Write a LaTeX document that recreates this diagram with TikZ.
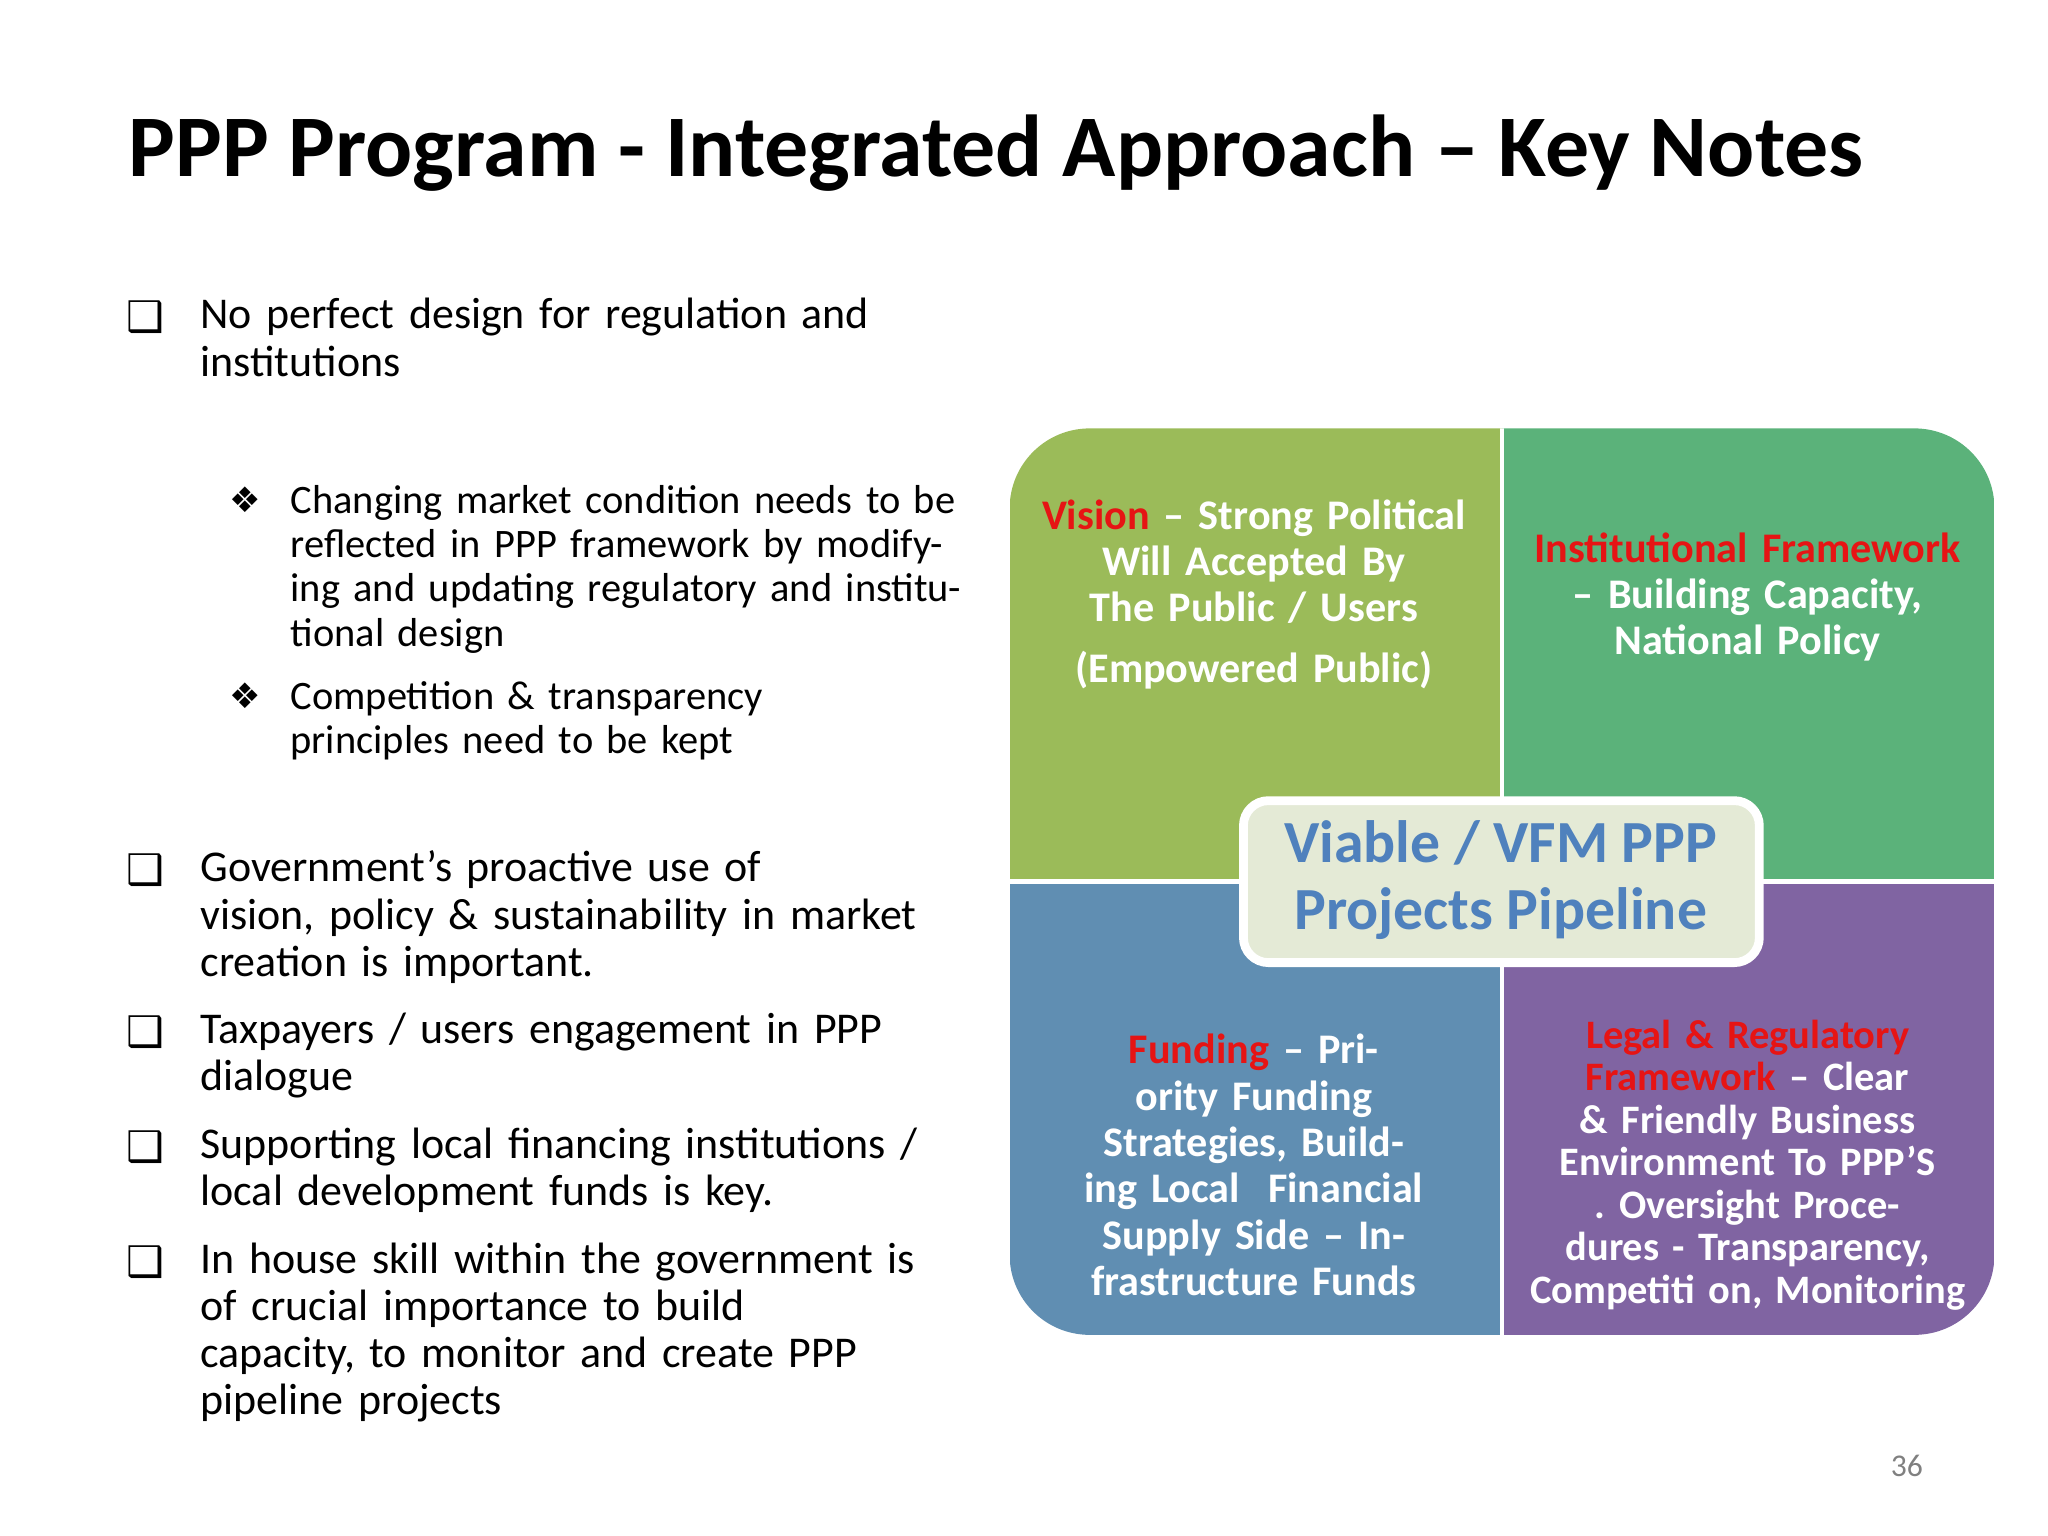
\documentclass[tikz,border=0pt]{standalone}
\usepackage{fontspec}
\setmainfont{Carlito}
\newfontfamily\symf{DejaVu Sans}
\definecolor{qg}{RGB}{155,187,89}
\definecolor{qt}{RGB}{91,178,122}
\definecolor{qb}{RGB}{96,142,178}
\definecolor{qp}{RGB}{128,100,162}
\definecolor{cbox}{RGB}{228,234,214}
\definecolor{ctext}{RGB}{79,129,189}
\definecolor{rd}{RGB}{230,20,20}
\tikzset{
 body/.style={anchor=north west,inner sep=0pt,align=left,font=\fontsize{12.5}{13.4}\selectfont},
 chk/.style={anchor=north west,inner sep=0pt,font=\symf\fontsize{12}{13}\selectfont},
 quad/.style={inner sep=0pt,align=center,text=white,font=\bfseries\fontsize{12}{13.2}\selectfont},
}
\begin{document}
\begin{tikzpicture}[x=0.01306cm,y=-0.01306cm]
\useasboundingbox (0,0) rectangle (1568,1176);
\node[inner sep=0pt,anchor=west,font=\bfseries\fontsize{25}{28}\selectfont] (title) at (98,117) {PPP Program - Integrated Approach -- Key Notes};
% left bullets
\node[chk] (c1) at (96,230) {❑};
\node[body,text width=7.8cm] (t1) at (153,228) {No perfect design for regulation and\\institutions};
\node[chk,font=\symf\fontsize{10}{12}\selectfont] (d1) at (175,372) {❖};
\node[body,text width=6.8cm,font=\fontsize{11.5}{12.6}\selectfont] (s1) at (222,371) {Changing market condition needs to be reflected in PPP framework by modifying and updating regulatory and institutional design};
\node[chk,font=\symf\fontsize{10}{12}\selectfont] (d2) at (175,522) {❖};
\node[body,text width=6.8cm,font=\fontsize{11.5}{12.6}\selectfont] (s2) at (222,521) {Competition \& transparency\\principles need to be kept};
\node[chk] (c2) at (96,653) {❑};
\node[body,text width=7.8cm] (t2) at (153,651) {Government's proactive use of\\vision, policy \& sustainability in market\\creation is important.};
\node[chk] (c3) at (96,777) {❑};
\node[body,text width=7.8cm] (t3) at (153,775) {Taxpayers / users engagement in PPP\\dialogue};
\node[chk] (c4) at (96,865) {❑};
\node[body,text width=7.8cm] (t4) at (153,863) {Supporting local financing institutions /\\local development funds is key.};
\node[chk] (c5) at (96,953) {❑};
\node[body,text width=7.8cm] (t5) at (153,951) {In house skill within the government is\\of crucial importance to build\\capacity, to monitor and create PPP\\pipeline projects};
% quadrants
\begin{scope}
\clip[rounded corners=0.8cm] (773,328) rectangle (1527,1022);
\fill[qg] (773,328) rectangle (1150,675);
\fill[qt] (1150,328) rectangle (1527,675);
\fill[qb] (773,675) rectangle (1150,1022);
\fill[qp] (1150,675) rectangle (1527,1022);
\draw[white,line width=1.3pt] (1150,328) -- (1150,1022) (773,675) -- (1527,675);
\end{scope}
\node[quad,text width=4.6cm] (q1) at (960,455) {\textcolor{rd}{Vision} -- Strong Political Will Accepted By The Public / Users\\[4pt](Empowered Public)};
\node[quad,text width=4.3cm] (q2) at (1338,457) {\textcolor{rd}{Institutional Framework} -- Building Capacity, National Policy};
\node[quad,text width=4.3cm] (q3) at (960,892) {\textcolor{rd}{Funding} -- Priority Funding\\Strategies, Building Local\ \ Financial Supply Side -- Infrastructure Funds};
\node[quad,text width=4.4cm,font=\bfseries\fontsize{11.5}{12.1}\selectfont] (q4) at (1338,892) {\textcolor{rd}{Legal \& Regulatory Framework} -- Clear \& Friendly Business Environment To PPP'S . Oversight Procedures - Transparency, Competiti on, Monitoring};
\draw[white,line width=2.5pt,fill=cbox,rounded corners=0.25cm] (952,613) rectangle (1347,737);
\node[inner sep=0pt,align=center,text=ctext,font=\bfseries\fontsize{17}{19}\selectfont] (c) at (1149,674) {Viable / VFM PPP\\Projects Pipeline};
\node[inner sep=0pt,text=gray,font=\fontsize{9}{10}\selectfont] (pg) at (1460,1122) {36};
\end{tikzpicture}
\end{document}
